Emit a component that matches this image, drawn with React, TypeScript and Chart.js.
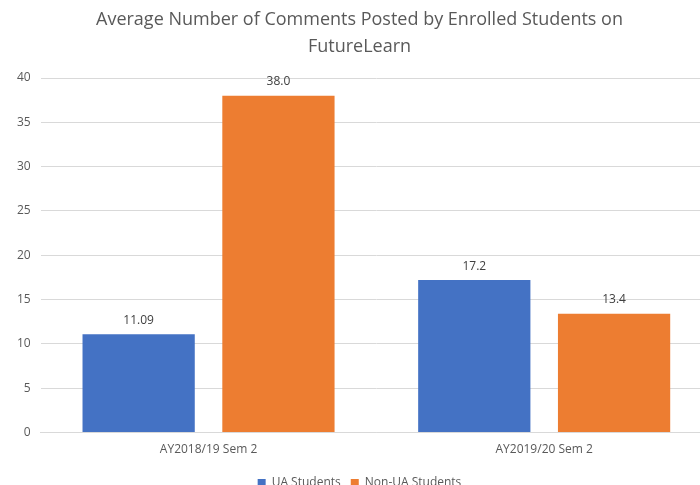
import React, { useEffect, useRef } from "react";
import { Chart, registerables } from "chart.js";

Chart.register(...registerables);

const categories = ["AY2018/19 Sem 2", "AY2019/20 Sem 2"];
const uaValues = [11.09, 17.2];
const nonUaValues = [38.0, 13.4];
const uaLabels = ["11.09", "17.2"];
const nonUaLabels = ["38.0", "13.4"];
const titleLines = ["Average Number of Comments Posted by Enrolled Students on", "FutureLearn"];

const valueLabelPlugin = {
  id: "valueLabels",
  afterDatasetsDraw(chart: any) {
    const ctx = chart.ctx;
    ctx.save();
    ctx.font = "12px 'Open Sans', sans-serif";
    ctx.fillStyle = "#404040";
    ctx.textAlign = "center";
    ctx.textBaseline = "bottom";
    chart.data.datasets.forEach((ds: any, di: number) => {
      const meta = chart.getDatasetMeta(di);
      meta.data.forEach((el: any, i: number) => {
        ctx.fillText(ds.valueLabels[i], el.x, el.y - 8);
      });
    });
    ctx.restore();
  },
};

export default function App() {
  const ref = useRef<HTMLCanvasElement>(null);
  useEffect(() => {
    if (!ref.current) return;
    const chart = new Chart(ref.current, {
      type: "bar",
      data: {
        labels: categories,
        datasets: [
          {
            label: "UA Students",
            data: uaValues,
            backgroundColor: "#4472C4",
            valueLabels: uaLabels,
          } as any,
          {
            label: "Non-UA Students",
            data: nonUaValues,
            backgroundColor: "#ED7D31",
            valueLabels: nonUaLabels,
          } as any,
        ],
      },
      options: {
        animation: false,
        responsive: true,
        maintainAspectRatio: false,
        layout: { padding: { left: 7, right: 10, top: 6, bottom: 0 } },
        datasets: {
          bar: { categoryPercentage: 0.833, barPercentage: 0.803 },
        },
        scales: {
          x: {
            grid: { display: false, drawTicks: false },
            border: { display: true, color: "#d9d9d9" },
            ticks: {
              color: "#595959",
              font: { family: "'Open Sans', sans-serif", size: 12 },
              padding: 10,
            },
          },
          y: {
            min: 0,
            max: 40,
            ticks: {
              stepSize: 5,
              color: "#595959",
              font: { family: "'Open Sans', sans-serif", size: 12 },
              padding: 10,
            },
            grid: { color: "#d9d9d9", drawTicks: false },
            border: { display: false },
          },
        },
        plugins: {
          title: {
            display: true,
            text: titleLines,
            color: "#595959",
            font: { family: "'Open Sans', sans-serif", size: 18, weight: "normal", lineHeight: 1.5 },
            padding: { top: 0, bottom: 18 },
          },
          legend: {
            position: "bottom",
            labels: {
              boxWidth: 8,
              boxHeight: 8,
              color: "#595959",
              font: { family: "'Open Sans', sans-serif", size: 12 },
              padding: 10,
            },
          },
          tooltip: { enabled: false },
        },
      },
      plugins: [valueLabelPlugin],
    });
    return () => chart.destroy();
  }, []);
  return (
    <div style={{ position: "fixed", left: 0, top: 0, width: 722, height: 499, background: "#fff" }}>
      <canvas ref={ref} />
    </div>
  );
}
